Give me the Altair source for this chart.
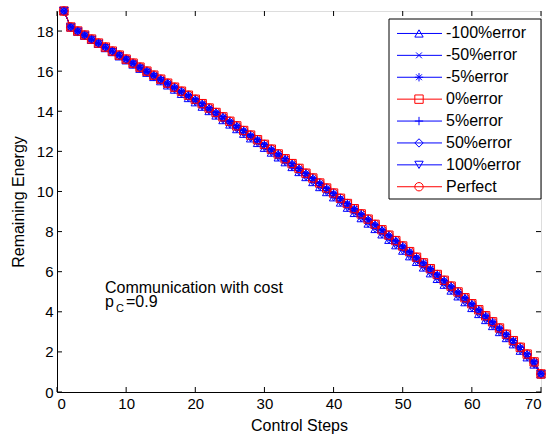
import altair as alt
import pandas as pd

# ---------------- data ----------------
steps = list(range(1, 71))

perfect = [19.00, 18.20, 18.00, 17.80, 17.60, 17.40, 17.20, 17.00, 16.80, 16.60,
           16.40, 16.20, 16.00, 15.80, 15.60, 15.40, 15.20, 15.00, 14.80, 14.60,
           14.38, 14.16, 13.94, 13.72, 13.50, 13.27, 13.04, 12.81, 12.58, 12.35,
           12.11, 11.87, 11.63, 11.39, 11.15, 10.91, 10.67, 10.42, 10.17, 9.92,
           9.66, 9.40, 9.14, 8.88, 8.62, 8.36, 8.09, 7.82, 7.55, 7.28,
           7.00, 6.72, 6.44, 6.15, 5.86, 5.57, 5.28, 4.99, 4.70, 4.40,
           4.10, 3.80, 3.50, 3.19, 2.88, 2.56, 2.23, 1.89, 1.50, 0.90]

err50 = [19.00, 18.19, 17.99, 17.79, 17.59, 17.39, 17.19, 16.99, 16.79, 16.58,
         16.38, 16.18, 15.98, 15.77, 15.57, 15.37, 15.16, 14.96, 14.76, 14.55,
         14.33, 14.11, 13.89, 13.67, 13.44, 13.21, 12.98, 12.75, 12.52, 12.29,
         12.05, 11.81, 11.57, 11.33, 11.09, 10.85, 10.60, 10.35, 10.10, 9.85,
         9.59, 9.33, 9.07, 8.81, 8.55, 8.29, 8.02, 7.75, 7.48, 7.21,
         6.93, 6.65, 6.37, 6.08, 5.79, 5.50, 5.21, 4.92, 4.63, 4.33,
         4.03, 3.73, 3.43, 3.13, 2.82, 2.50, 2.18, 1.84, 1.46, 0.90]

err100 = [19.00, 18.18, 17.97, 17.77, 17.56, 17.36, 17.15, 16.95, 16.74, 16.54,
          16.33, 16.12, 15.92, 15.71, 15.50, 15.29, 15.08, 14.87, 14.66, 14.45,
          14.23, 14.01, 13.79, 13.56, 13.34, 13.11, 12.88, 12.65, 12.42, 12.18,
          11.94, 11.70, 11.46, 11.22, 10.97, 10.72, 10.47, 10.22, 9.97, 9.71,
          9.45, 9.19, 8.93, 8.67, 8.40, 8.13, 7.86, 7.59, 7.32, 7.05,
          6.77, 6.49, 6.21, 5.92, 5.64, 5.35, 5.06, 4.77, 4.48, 4.19,
          3.89, 3.59, 3.29, 2.99, 2.69, 2.38, 2.06, 1.73, 1.37, 0.88]

series_names = ["-100%error", "-50%error", "-5%error", "0%error",
                "5%error", "50%error", "100%error", "Perfect"]
series_values = [err100, err50, perfect, perfect, perfect, err50, err100, perfect]

x_ticks = [0, 10, 20, 30, 40, 50, 60, 70]
y_ticks = [0, 2, 4, 6, 8, 10, 12, 14, 16, 18]

# ---------------- styles ----------------
BLUE = "#0000ff"
RED = "#ff0000"
series_colors = [BLUE, BLUE, BLUE, RED, BLUE, BLUE, BLUE, RED]
X_PATH = "M-0.7,-0.7L0.7,0.7M-0.7,0.7L0.7,-0.7"
STAR_PATH = "M-1,0L1,0M0,-1L0,1M-0.7,-0.7L0.7,0.7M-0.7,0.7L0.7,-0.7"
PLUS_PATH = "M-1,0L1,0M0,-1L0,1"
series_shapes = ["triangle-up", X_PATH, STAR_PATH, "square",
                 PLUS_PATH, "diamond", "triangle-down", "circle"]

FONT = "Liberation Sans"
W, H = 484, 381
MSIZE = 70

rows = []
for name, vals in zip(series_names, series_values):
    for s, v in zip(steps, vals):
        rows.append({"step": s, "energy": v, "series": name})
df = pd.DataFrame(rows)

xaxis = alt.Axis(values=x_ticks, ticks=False, grid=False, title="Control Steps",
                 labelFontSize=15, titleFontSize=16, labelPadding=4, titlePadding=6,
                 domainColor="#000", labelColor="#000", titleColor="#000",
                 titleFontWeight="normal", labelFont=FONT, titleFont=FONT)
yaxis = alt.Axis(values=y_ticks, ticks=False, grid=False, title="Remaining Energy",
                 labelFontSize=15, titleFontSize=16, labelPadding=4, titlePadding=10,
                 domainColor="#000", labelColor="#000", titleColor="#000",
                 titleFontWeight="normal", labelFont=FONT, titleFont=FONT)
xscale = alt.Scale(domain=[0, 70], nice=False)
yscale = alt.Scale(domain=[0, 19], nice=False)

color_enc = alt.Color("series:N", scale=alt.Scale(domain=series_names, range=series_colors), legend=None)
shape_enc = alt.Shape("series:N", scale=alt.Scale(domain=series_names, range=series_shapes), legend=None)

base = alt.Chart(df)
lines = base.mark_line(strokeWidth=1, clip=False).encode(
    x=alt.X("step:Q", scale=xscale, axis=xaxis),
    y=alt.Y("energy:Q", scale=yscale, axis=yaxis),
    color=color_enc,
)
points = base.mark_point(filled=False, size=MSIZE, strokeWidth=1, opacity=1, clip=False).encode(
    x=alt.X("step:Q", scale=xscale, axis=xaxis),
    y=alt.Y("energy:Q", scale=yscale, axis=yaxis),
    color=color_enc,
    shape=shape_enc,
)

# inward ticks on all four sides
xt = alt.Chart(pd.DataFrame({"t": x_ticks}))
yt = alt.Chart(pd.DataFrame({"t": y_ticks}))
tick_style = dict(color="#000", strokeWidth=1)
ticks_bottom = xt.mark_rule(**tick_style).encode(
    x=alt.X("t:Q", scale=xscale, axis=xaxis), y=alt.value(H), y2=alt.value(H - 5))
ticks_top = xt.mark_rule(**tick_style).encode(
    x=alt.X("t:Q", scale=xscale, axis=xaxis), y=alt.value(0), y2=alt.value(5))
ticks_left = yt.mark_rule(**tick_style).encode(
    y=alt.Y("t:Q", scale=yscale, axis=yaxis), x=alt.value(0), x2=alt.value(5))
ticks_right = yt.mark_rule(**tick_style).encode(
    y=alt.Y("t:Q", scale=yscale, axis=yaxis), x=alt.value(W), x2=alt.value(W - 5))

# legend (manual, MATLAB style)
leg_df = pd.DataFrame({"series": series_names, "idx": list(range(len(series_names)))})
leg = alt.Chart(leg_df).transform_calculate(ly="17.88 - datum.idx * 1.092")
leg_box = alt.Chart(pd.DataFrame({"a": [0]})).mark_rect(
    fill="white", stroke="#000", strokeWidth=1).encode(
    x=alt.value(332), x2=alt.value(W), y=alt.value(8), y2=alt.value(188))
leg_lines = leg.mark_rule(strokeWidth=1).encode(
    x=alt.value(340), x2=alt.value(385),
    y=alt.Y("ly:Q", scale=yscale, axis=yaxis), color=color_enc)
leg_pts = leg.mark_point(filled=False, size=MSIZE, strokeWidth=1, opacity=1).encode(
    x=alt.value(362), y=alt.Y("ly:Q", scale=yscale, axis=yaxis),
    color=color_enc, shape=shape_enc)
leg_text = leg.mark_text(align="left", baseline="middle", fontSize=16, font=FONT, color="#000").encode(
    x=alt.value(389), y=alt.Y("ly:Q", scale=yscale, axis=yaxis), text="series:N")

# annotation
ann_df = pd.DataFrame({"a": [0]})
ann1 = alt.Chart(ann_df).mark_text(align="left", baseline="middle", fontSize=16, font=FONT, color="#000",
                                   text="Communication with cost").encode(x=alt.value(48), y=alt.value(277))
ann2 = alt.Chart(ann_df).mark_text(align="left", baseline="middle", fontSize=16, font=FONT, color="#000",
                                   text="p").encode(x=alt.value(48), y=alt.value(291))
ann3 = alt.Chart(ann_df).mark_text(align="left", baseline="middle", fontSize=11, font=FONT, color="#000",
                                   text="C").encode(x=alt.value(59), y=alt.value(298))
ann4 = alt.Chart(ann_df).mark_text(align="left", baseline="middle", fontSize=16, font=FONT, color="#000",
                                   text="=0.9").encode(x=alt.value(69), y=alt.value(291))

chart = alt.layer(
    ticks_bottom, ticks_top, ticks_left, ticks_right,
    lines, points,
    leg_box, leg_lines, leg_pts, leg_text,
    ann1, ann2, ann3, ann4,
).properties(
    width=W, height=H,
    autosize=alt.AutoSizeParams(type="none"),
    padding={"left": 57, "top": 11, "right": 8, "bottom": 48},
).configure_view(
    stroke="#000", strokeWidth=1
).configure(background="white")

chart.save("out.html", embed_options={"renderer": "svg", "actions": False})
